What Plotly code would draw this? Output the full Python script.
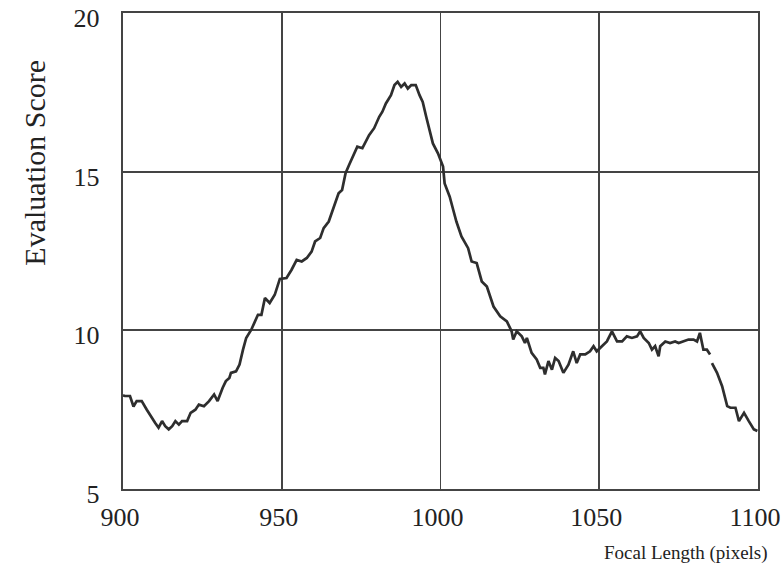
import plotly.graph_objects as go

# Focal length (pixels) and evaluation score
focal = [
    900.0, 900.6, 902.2, 903.3, 904.3, 905.9, 907.5, 909.0, 910.1, 911.2,
    912.3, 913.3, 914.4, 915.5, 916.5, 917.6, 918.6, 920.2, 921.3, 922.8,
    923.9, 925.5, 927.1, 928.7, 929.8, 931.4, 932.4, 933.5, 934.0, 935.6,
    936.7, 937.8, 938.8, 940.4, 941.5, 942.5, 943.6, 944.7, 946.2, 947.8,
    949.4, 951.5, 953.1, 954.7, 956.3, 957.9, 959.4, 960.5, 962.1, 963.2,
    964.8, 966.4, 967.9, 969.0, 970.1, 971.2, 972.7, 973.8, 975.4, 976.4,
    977.5, 979.1, 980.7, 981.7, 982.8, 984.4, 985.5, 986.5, 987.6, 988.7,
    989.7, 990.8, 992.2, 993.4, 994.4, 995.5, 996.6, 997.6, 999.2, 1000.8,
    1001.3, 1002.9, 1004.0, 1005.0, 1006.6, 1008.7, 1009.8, 1011.4, 1013.0, 1014.6,
    1016.7, 1018.8, 1020.9, 1022.4, 1022.9, 1024.0, 1025.6, 1026.6, 1027.2, 1028.7,
    1030.3, 1031.4, 1032.4, 1032.9, 1034.0, 1035.1, 1036.1, 1037.2, 1038.7, 1040.3,
    1041.8, 1042.9, 1044.0, 1045.6, 1047.1, 1048.2, 1049.2, 1050.8, 1052.4, 1054.0,
    1055.6, 1057.2, 1058.7, 1060.3, 1061.9, 1062.9, 1064.0, 1065.6, 1066.6, 1067.6,
    1068.7, 1069.2, 1070.8, 1072.3, 1073.9, 1075.0, 1076.5, 1078.1, 1079.7, 1080.8,
    1081.7, 1082.8, 1083.9, 1084.9, 1085.2, 1085.5, 1087.1, 1088.7, 1090.3, 1091.3,
    1092.9, 1094.0, 1095.6, 1097.1, 1098.7, 1099.8,
]
score = [
    7.95, 7.93, 7.93, 7.60, 7.77, 7.77, 7.50, 7.25, 7.09, 6.93,
    7.14, 6.98, 6.88, 6.98, 7.14, 7.03, 7.14, 7.14, 7.40, 7.50,
    7.66, 7.61, 7.77, 7.98, 7.77, 8.19, 8.40, 8.50, 8.66, 8.71,
    8.92, 9.39, 9.76, 10.02, 10.28, 10.49, 10.49, 11.02, 10.86, 11.12,
    11.62, 11.65, 11.91, 12.22, 12.17, 12.28, 12.48, 12.80, 12.91, 13.22,
    13.43, 13.90, 14.32, 14.42, 14.95, 15.21, 15.53, 15.79, 15.74, 15.94,
    16.15, 16.37, 16.73, 16.89, 17.15, 17.41, 17.73, 17.83, 17.67, 17.78,
    17.62, 17.73, 17.73, 17.41, 17.20, 16.73, 16.26, 15.89, 15.58, 15.16,
    14.63, 14.21, 13.80, 13.43, 12.96, 12.59, 12.17, 12.12, 11.54, 11.38,
    10.75, 10.44, 10.28, 9.97, 9.71, 9.97, 9.81, 9.60, 9.76, 9.29,
    9.08, 8.82, 8.82, 8.61, 9.03, 8.76, 9.13, 9.03, 8.66, 8.92,
    9.34, 8.97, 9.24, 9.24, 9.34, 9.50, 9.34, 9.50, 9.65, 9.97,
    9.65, 9.65, 9.81, 9.76, 9.81, 9.97, 9.76, 9.60, 9.39, 9.50,
    9.18, 9.50, 9.65, 9.60, 9.65, 9.60, 9.65, 9.71, 9.71, 9.65,
    9.92, 9.39, 9.39, 9.24, None, 8.97, 8.66, 8.24, 7.61, 7.56,
    7.56, 7.14, 7.40, 7.14, 6.88, 6.83,
]

x_ticks = [900, 950, 1000, 1050, 1100]
y_ticks = [5, 10, 15, 20]

FONT = "Liberation Serif, Times New Roman, serif"
INK = "#2e2e2e"

fig = go.Figure()
fig.add_trace(go.Scatter(
    x=focal, y=score, mode="lines",
    line=dict(color=INK, width=2.7),
    connectgaps=False, showlegend=False, hoverinfo="skip",
))

fig.update_layout(
    width=784, height=580,
    margin=dict(l=123, r=26, t=13, b=91, autoexpand=False),
    paper_bgcolor="white", plot_bgcolor="white",
    font=dict(family=FONT, color="#222222"),
    xaxis=dict(
        range=[900, 1100], tickvals=x_ticks, ticktext=[str(v) for v in x_ticks],
        showgrid=True, gridcolor="#444444", gridwidth=1.8,
        showline=True, linecolor="#444444", linewidth=2.4, mirror=True,
        zeroline=False, ticks="", ticklabelstandoff=3, ticklabelshift=-3,
        automargin=False, ticklabeloverflow="allow",
        tickfont=dict(family=FONT, size=26, color="#222222"),
    ),
    yaxis=dict(
        range=[5, 20], tickvals=y_ticks, ticktext=[str(v) for v in y_ticks],
        showgrid=True, gridcolor="#444444", gridwidth=1.8,
        showline=True, linecolor="#444444", linewidth=2.4, mirror=True,
        zeroline=False, ticks="", ticklabelstandoff=16, ticklabelshift=5,
        automargin=False, ticklabeloverflow="allow",
        tickfont=dict(family=FONT, size=26, color="#222222"),
    ),
    annotations=[
        dict(text="Focal Length (pixels)", xref="paper", yref="paper",
             x=1.019, y=-0.134, xanchor="right", yanchor="middle",
             showarrow=False, font=dict(family=FONT, size=19, color="#222222")),
        dict(text="Evaluation Score", xref="paper", yref="paper",
             x=-0.139, y=0.685, xanchor="center", yanchor="middle", textangle=-90,
             showarrow=False, font=dict(family=FONT, size=30, color="#222222")),
    ],
)

fig.write_html(
    "out.html",
    config={"displayModeBar": False, "staticPlot": True},
    post_script="document.body.style.margin='0';",
)
